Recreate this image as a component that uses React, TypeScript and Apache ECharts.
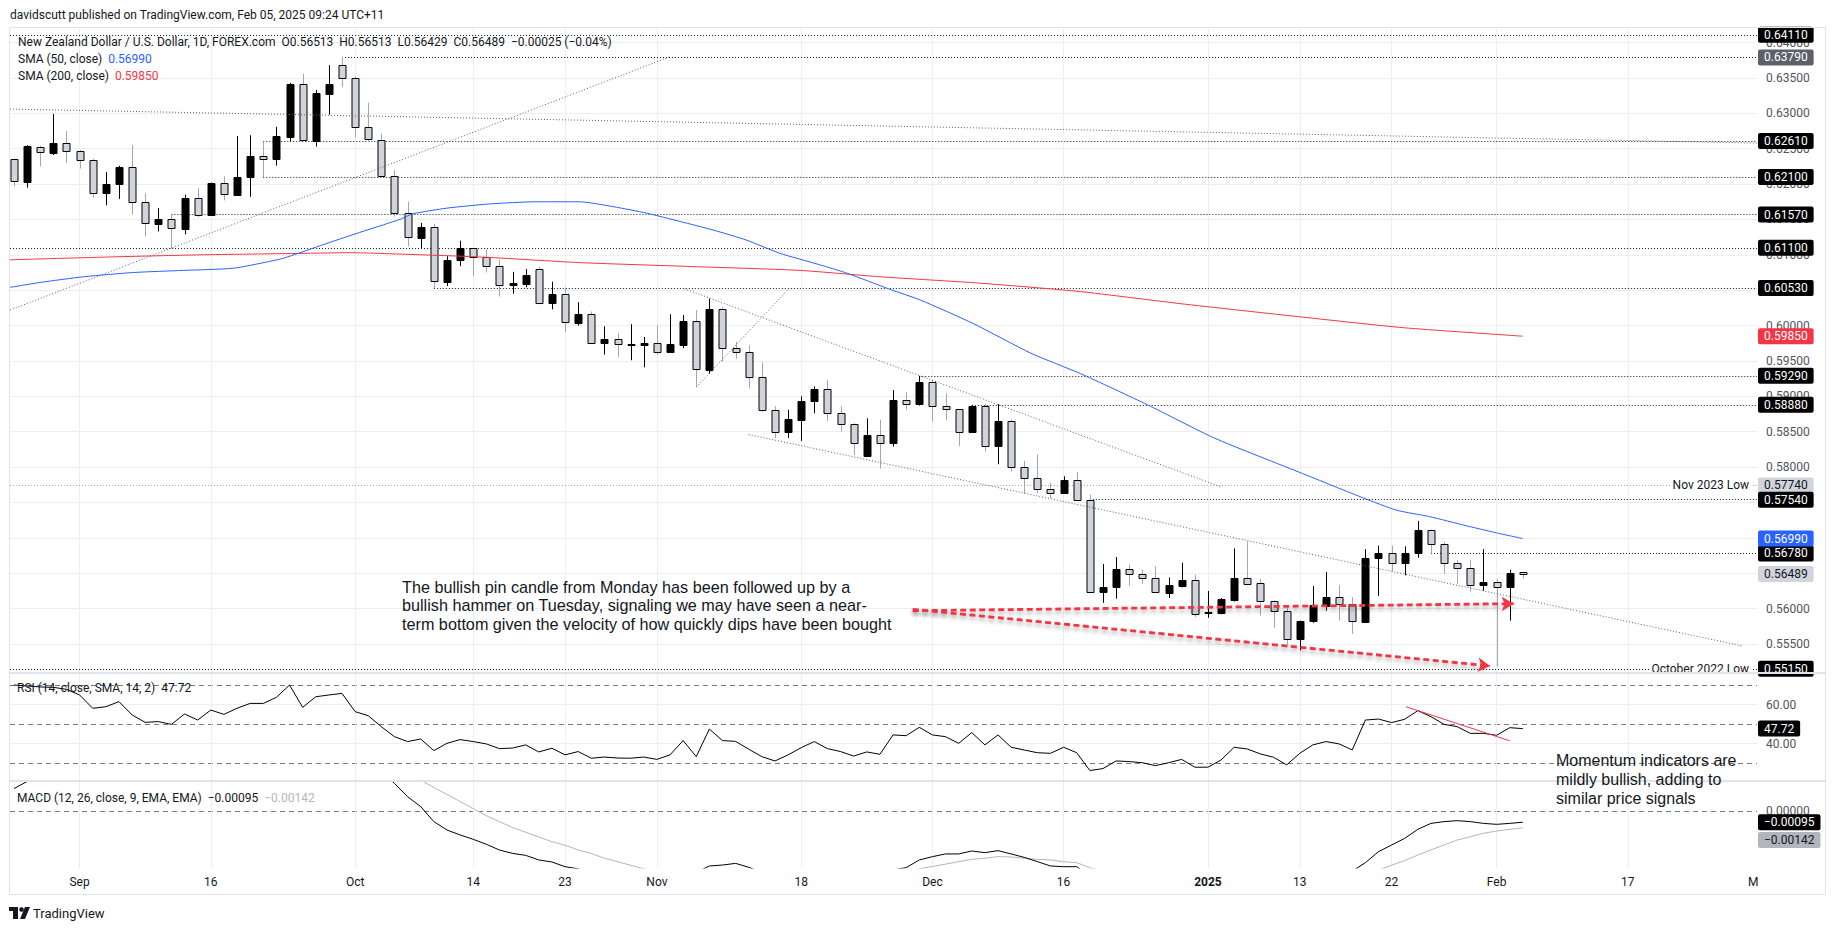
import React, { useEffect, useRef } from 'react';
import * as echarts from 'echarts';

// ---------- DATA (bar index 0 = Aug 26 2024, daily trading bars) ----------
const opens = [0.6235,0.6203,0.6253,0.6244,0.6258,0.6247,0.6234,0.6187,0.6200,0.6224,
 0.6174,0.6144,0.6150,0.6137,0.6180,0.6156,0.6201,0.6185,0.6210,0.6240,
 0.6236,0.6267,0.6342,0.6261,0.6328,0.6368,0.6350,0.6280,0.6263,0.6212,
 0.6159,0.6124,0.6139,0.6062,0.6092,0.6109,0.6097,0.6084,0.6057,0.6059,
 0.6080,0.6032,0.6044,0.6004,0.6016,0.5976,0.5981,0.5973,0.5973,0.5976,
 0.5963,0.5973,0.6006,0.5937,0.6024,0.5968,0.5963,0.5927,0.5881,0.5849,
 0.5867,0.5893,0.5911,0.5876,0.5861,0.5816,0.5845,0.5834,0.5895,0.5889,
 0.5920,0.5887,0.5882,0.5850,0.5886,0.5830,0.5865,0.5800,0.5784,0.5769,
 0.5763,0.5782,0.5754,0.5623,0.5630,0.5656,0.5649,0.5643,0.5622,0.5632,
 0.5640,0.5594,0.5594,0.5612,0.5643,0.5636,0.5611,0.5597,0.5557,0.5583,
 0.5604,0.5616,0.5607,0.5581,0.5672,0.5678,0.5665,0.5678,0.5711,0.5692,
 0.5665,0.5658,0.5634,0.5637,0.5630,0.56513];
const highs = [0.6236,0.6255,0.6254,0.6299,0.6275,0.6248,0.6236,0.6217,0.6226,0.6255,
 0.6187,0.6166,0.6158,0.6185,0.6194,0.6202,0.6211,0.6268,0.6269,0.6260,
 0.6281,0.6343,0.6356,0.6333,0.6368,0.6380,0.6352,0.6315,0.6271,0.6220,
 0.6175,0.6145,0.6144,0.6098,0.6120,0.6110,0.6107,0.6093,0.6076,0.6080,
 0.6083,0.6062,0.6054,0.6033,0.6020,0.5999,0.5989,0.6002,0.5984,0.6000,
 0.6016,0.6015,0.6022,0.6038,0.6026,0.5977,0.5972,0.5948,0.5886,0.5881,
 0.5900,0.5914,0.5923,0.5886,0.5862,0.5869,0.5867,0.5909,0.5906,0.5929,
 0.5923,0.5904,0.5882,0.5888,0.5889,0.5889,0.5867,0.5809,0.5818,0.5778,
 0.5787,0.5793,0.5761,0.5663,0.5673,0.5662,0.5655,0.5660,0.5644,0.5665,
 0.5648,0.5625,0.5615,0.5685,0.5695,0.5642,0.5612,0.5603,0.5583,0.5632,
 0.5652,0.5633,0.5616,0.5684,0.5689,0.5689,0.5688,0.5724,0.5712,0.5694,
 0.5669,0.5669,0.5684,0.5642,0.5655,0.56513];
const lows = [0.6197,0.6195,0.6225,0.6241,0.6230,0.6222,0.6181,0.6170,0.6179,0.6157,
 0.6126,0.6133,0.6109,0.6129,0.6153,0.6155,0.6177,0.6184,0.6182,0.6210,
 0.6226,0.6260,0.6261,0.6253,0.6298,0.6337,0.6266,0.6259,0.6211,0.6154,
 0.6112,0.6109,0.6053,0.6056,0.6084,0.6070,0.6075,0.6041,0.6045,0.6054,
 0.6030,0.6023,0.5991,0.6000,0.5975,0.5959,0.5955,0.5951,0.5941,0.5958,
 0.5963,0.5968,0.5913,0.5932,0.5949,0.5953,0.5911,0.5878,0.5841,0.5841,
 0.5837,0.5876,0.5865,0.5850,0.5817,0.5816,0.5798,0.5829,0.5881,0.5887,
 0.5864,0.5866,0.5830,0.5850,0.5822,0.5804,0.5794,0.5762,0.5763,0.5756,
 0.5762,0.5752,0.5622,0.5608,0.5614,0.5632,0.5635,0.5622,0.5615,0.5630,
 0.5588,0.5587,0.5592,0.5610,0.5633,0.5590,0.5573,0.5548,0.5541,0.5580,
 0.5597,0.5583,0.5564,0.5580,0.5618,0.5652,0.5647,0.5672,0.5678,0.5649,
 0.5635,0.5624,0.5625,0.5518,0.5583,0.56429];
const closes = [0.6204,0.6254,0.6245,0.6258,0.6247,0.6234,0.6187,0.6200,0.6224,0.6174,
 0.6145,0.6150,0.6138,0.6180,0.6157,0.6201,0.6186,0.6210,0.6240,0.6236,
 0.6268,0.6342,0.6262,0.6329,0.6342,0.6350,0.6280,0.6264,0.6212,0.6159,
 0.6125,0.6139,0.6063,0.6093,0.6109,0.6097,0.6084,0.6057,0.6060,0.6071,
 0.6032,0.6044,0.6005,0.6016,0.5976,0.5981,0.5974,0.5974,0.5976,0.5963,
 0.5974,0.6007,0.5938,0.6024,0.5968,0.5963,0.5927,0.5881,0.5849,0.5868,
 0.5893,0.5911,0.5876,0.5861,0.5834,0.5845,0.5834,0.5895,0.5889,0.5920,
 0.5887,0.5882,0.5850,0.5886,0.5830,0.5865,0.5800,0.5784,0.5769,0.5763,
 0.5782,0.5754,0.5623,0.5630,0.5656,0.5649,0.5643,0.5623,0.5633,0.5640,
 0.5593,0.5595,0.5614,0.5643,0.5635,0.5611,0.5597,0.5557,0.5583,0.5605,
 0.5616,0.5607,0.5582,0.5672,0.5678,0.5665,0.5678,0.5711,0.5692,0.5665,
 0.5658,0.5634,0.5637,0.5630,0.5651,0.56489];

const sma50Pts = [[-0.3,0.6054],[2.0,0.6061],[5.3,0.6069],[9.1,0.6075],[12.9,0.6078],[16.7,0.6081],[19.3,0.6090],[20.5,0.6095],[21.8,0.6103],[24.3,0.6119],[26.9,0.6135],[29.4,0.6150],[30.4,0.6158],[33.0,0.6166],[36.3,0.6172],[39.8,0.6175],[43.1,0.6175],[45.7,0.6168],[48.2,0.6159],[50.8,0.6147],[53.3,0.6135],[55.8,0.6121],[58.4,0.6102],[61.4,0.6086],[63.5,0.6074],[66.8,0.6051],[69.1,0.6036],[73.1,0.6003],[77.5,0.5961],[81.3,0.5932],[86.4,0.5888],[91.5,0.5841],[98.2,0.5791],[102.9,0.5756],[105.4,0.5739],[107.9,0.5730],[110.5,0.5718],[113.0,0.5707],[115.0,0.5699]];
const sma200Pts = [[-0.3,0.6093],[7.3,0.6097],[14.2,0.6100],[21.8,0.6102],[25.6,0.6103],[27.9,0.6102],[35.5,0.6097],[43.1,0.6089],[50.8,0.6084],[59.9,0.6078],[66.0,0.6069],[73.6,0.6060],[81.3,0.6048],[88.9,0.6031],[98.2,0.6012],[105.9,0.5997],[115.0,0.5985]];

const rsi = [70,69.5,69,68.8,67.8,64.9,58.1,58.9,61.5,54.7,
 50.9,51.3,49.9,55.2,52.1,57.2,55.0,58.1,60.6,60.6,
 63.7,70.0,58.6,64.0,64.9,65.7,56.4,54.3,48.7,43.6,
 41.1,42.4,36.5,40.2,42.1,41.1,39.9,37.5,37.8,39.4,
 35.8,37.7,34.3,36.0,32.6,33.2,32.7,32.6,33.2,32.0,
 34.3,41.6,33.4,47.5,41.6,41.2,37.2,33.4,31.2,34.3,
 38.0,41.1,37.5,36.0,33.7,35.8,34.6,44.5,44.1,48.4,
 44.5,43.6,40.2,45.7,39.4,44.5,38.2,36.8,35.4,35.1,
 38.2,35.4,26.3,27.3,31.2,30.9,30.3,28.8,30.3,32.0,
 28.0,28.0,31.7,38.2,37.3,34.8,33.1,29.2,35.1,39.4,
 41.1,39.9,36.8,52.1,52.6,50.8,52.5,56.9,53.8,49.9,
 48.7,45.3,45.3,44.3,48.2,47.72];

const macd = [0.0019,0.0025,0.0028,0.0031,0.0032,0.0032,0.0030,0.0029,0.0029,0.0027,
 0.0026,0.0026,0.0026,0.0027,0.0027,0.0028,0.0028,0.0030,0.0032,0.0034,
 0.0036,0.0042,0.0042,0.0044,0.0046,0.0047,0.0044,0.0040,0.0033,0.00234,
 0.00121,0.00037,-0.00090,-0.00161,-0.00203,-0.00240,-0.00282,-0.00331,-0.00359,-0.00376,
 -0.00415,-0.00432,-0.00472,-0.0049,-0.0052,-0.0053,-0.0054,-0.0054,-0.0054,-0.0054,
 -0.0053,-0.0050,-0.0052,-0.00466,-0.00458,-0.00444,-0.00477,-0.0052,-0.0057,-0.0058,
 -0.0057,-0.0055,-0.0055,-0.0055,-0.0056,-0.0055,-0.0054,-0.0050,-0.00480,-0.00415,
 -0.00387,-0.00364,-0.00364,-0.00339,-0.00353,-0.00336,-0.00364,-0.00393,-0.00429,-0.00466,
 -0.00472,-0.00472,-0.0055,-0.0060,-0.0062,-0.0063,-0.0064,-0.0065,-0.0065,-0.0064,
 -0.0065,-0.0065,-0.0064,-0.0060,-0.0058,-0.0057,-0.0057,-0.0058,-0.0057,-0.0055,
 -0.0053,-0.0052,-0.0051,-0.00438,-0.00345,-0.00288,-0.00232,-0.00155,-0.00105,-0.00090,
 -0.00082,-0.00090,-0.00105,-0.00113,-0.00105,-0.00095];
const signal = [0.0027,0.0027,0.0028,0.0028,0.0029,0.0029,0.0029,0.0029,0.0029,0.0029,
 0.0028,0.0028,0.0028,0.0028,0.0028,0.0028,0.0028,0.0028,0.0029,0.0029,
 0.0030,0.0031,0.0033,0.0034,0.0036,0.0038,0.0039,0.0039,0.0038,0.0035,
 0.0031,0.0026,0.0020,0.0014,0.0008,0.0002,-0.0004,-0.0009,-0.0014,-0.0018,
 -0.0022,-0.0026,-0.0029,-0.0033,-0.0036,-0.0040,-0.0043,-0.0046,-0.0049,-0.0051,
 -0.0052,-0.0053,-0.0053,-0.0053,-0.0052,-0.0051,-0.0051,-0.0051,-0.0052,-0.0053,
 -0.0054,-0.0054,-0.0054,-0.0055,-0.0055,-0.0055,-0.0054,-0.0053,-0.0051,-0.0049,
 -0.0047,-0.0045,-0.0043,-0.0041,-0.0040,-0.00387,-0.0039,-0.0040,-0.0041,-0.00415,
 -0.0043,-0.00438,-0.0048,-0.0051,-0.0054,-0.0056,-0.0058,-0.0060,-0.0061,-0.0062,
 -0.0063,-0.0063,-0.0063,-0.0063,-0.0062,-0.0061,-0.0060,-0.0060,-0.0059,-0.0058,
 -0.0057,-0.0056,-0.0055,-0.0052,-0.0050,-0.0046,-0.0042,-0.00373,-0.0033,-0.00288,
 -0.00246,-0.00218,-0.00189,-0.0017,-0.00155,-0.00142];

const xTickIdx = [5, 15, 26, 35, 42, 49, 60, 70, 80, 91, 98, 105, 113, 123];
const xTickText = ['Sep', '16', 'Oct', '14', '23', 'Nov', '18', 'Dec', '16', '2025', '13', '22', 'Feb', '17'];
const priceTicks = [0.555,0.56,0.565,0.57,0.575,0.58,0.585,0.59,0.595,0.6,0.605,0.61,0.615,0.62,0.625,0.63,0.635,0.64];

const levelPrices = [0.6411, 0.6379, 0.6261, 0.6210, 0.6157, 0.6110, 0.6053, 0.5929, 0.5888, 0.5774, 0.5754, 0.5678, 0.5515];
const levelFromBar = [-0.3, 25, 19, 19, 12, -0.3, 32, 69, 73, -0.3, 82, 108, -0.3];
const levelNotes = ['', '', '', '', '', '', '', '', '', 'Nov 2023 Low', '', '', 'October 2022 Low'];

const trendLines = [
  [[-0.3, 0.6022], [50.0, 0.6380]],
  [[-0.3, 0.6306], [132.85, 0.6258]],
  [[51.1, 0.6052], [92.0, 0.5772]],
  [[56.0, 0.5846], [131.8, 0.5547]],
  [[52.0, 0.5913], [59.0, 0.6051]],
];
const arrowLines = [
  [[68.5, 0.5597], [114.3, 0.5607]],
  [[68.5, 0.5599], [112.5, 0.5519]],
];
const rsiTrend = [[106.1, 58.9], [114.0, 41.5]];

const lastClose = 0.56489;
const sma50Last = 0.5699;
const sma200Last = 0.5985;
const rsiLast = 47.72;
const macdLast = -0.00095;
const signalLast = -0.00142;

// ---------- LAYOUT ----------
const X_MIN = -0.305;
const X_MAX = 132.85;
const Y_MIN = 0.5509;
const Y_MAX = 0.6422;
const UI = "Roboto, 'Noto Sans', sans-serif";
const NOTE = "'Liberation Sans', Arial, sans-serif";
const GRIDC = '#eceef2';
const TXT = '#131722';
const HIDDEN = { color: 'rgba(0,0,0,0)', width: 0 };
const PANE_EDGE_NUDGE = 0.0004; // labels at the pane's bottom edge are lifted into the pane, as the reference does

const box = (text: string, bg: string, fg: string) => ({
  show: true, position: 'end', distance: 1, formatter: text,
  backgroundColor: bg, color: fg, padding: [2, 6, 2, 6], borderRadius: 2,
  fontSize: 12, lineHeight: 12, fontFamily: UI,
});
const plain = (text: string) => ({
  show: true, position: 'end', distance: 9, formatter: text,
  color: '#50535e', fontSize: 12, fontFamily: UI,
});
const vLines = () => xTickIdx.map((k) => ({ xAxis: k, lineStyle: { color: GRIDC, width: 1, type: 'solid' } }));
const mlBase = { silent: true, symbol: 'none', precision: 10, animation: false, label: { show: false }, emphasis: { disabled: true } };

export default function App() {
  const ref = useRef<HTMLDivElement>(null);
  useEffect(() => {
    const chart = echarts.init(ref.current as HTMLDivElement, null, { renderer: 'svg' });

    const candleData = opens.map((o, i) => [i, o, closes[i], lows[i], highs[i]]);

    const priceGridMarks = [
      ...priceTicks.map((v) => ({ yAxis: v, lineStyle: { color: GRIDC, width: 1, type: 'solid' }, label: plain(v.toFixed(5)) })),
      ...vLines(),
    ];

    const levelMarks: any[] = [];
    levelPrices.forEach((p, i) => {
      const isNov = levelNotes[i] === 'Nov 2023 Low';
      const bg = i === 1 ? '#5d606b' : isNov ? '#d1d4dc' : '#000000';
      const fg = isNov ? TXT : '#ffffff';
      const nearEdge = p - Y_MIN < PANE_EDGE_NUDGE;
      const labelAt = nearEdge ? Y_MIN + PANE_EDGE_NUDGE : p;
      levelMarks.push([
        { coord: [levelFromBar[i], p], lineStyle: { color: isNov ? '#a3a6af' : TXT, width: 1, type: [1, 2] }, label: nearEdge ? { show: false } : box(p.toFixed(5), bg, fg) },
        { coord: [X_MAX, p] },
      ]);
      if (nearEdge) {
        levelMarks.push({ yAxis: labelAt, lineStyle: HIDDEN, label: box(p.toFixed(5), bg, fg) });
      }
      if (levelNotes[i]) {
        const noteAt = nearEdge ? Y_MIN + PANE_EDGE_NUDGE * 0.75 : p;
        levelMarks.push([
          { coord: [levelFromBar[i], noteAt], lineStyle: HIDDEN, label: { show: true, position: 'insideEnd', distance: 6, formatter: levelNotes[i], color: TXT, fontSize: 12, fontFamily: UI, backgroundColor: '#ffffff', padding: [1, 2] } },
          { coord: [X_MAX, noteAt] },
        ]);
      }
    });
    levelMarks.push({ yAxis: lastClose, lineStyle: HIDDEN, label: box(lastClose.toFixed(5), '#d1d4dc', TXT) });
    levelMarks.push({ yAxis: sma50Last, lineStyle: HIDDEN, label: box(sma50Last.toFixed(5), '#2962ff', '#ffffff') });
    levelMarks.push({ yAxis: sma200Last, lineStyle: HIDDEN, label: box(sma200Last.toFixed(5), '#f23645', '#ffffff') });

    const macdScale = 87 / (0.002542 + 0.004831);
    const signalLabelPos = -(29 / macdScale);

    const option: any = {
      animation: false,
      backgroundColor: '#ffffff',
      grid: [
        { left: 10, width: 1747, top: 27, height: 646, outerBoundsMode: 'none' },
        { left: 10, width: 1747, top: 673, height: 108, outerBoundsMode: 'none' },
        { left: 10, width: 1747, top: 781, height: 87, outerBoundsMode: 'none' },
      ],
      xAxis: [0, 1, 2].map((g) => ({
        type: 'value', gridIndex: g, min: X_MIN, max: X_MAX, show: g === 2,
        axisLine: { show: false }, axisTick: { show: false }, splitLine: { show: false },
        axisLabel: g === 2 ? {
          customValues: xTickIdx,
          formatter: (v: number) => {
            const i = xTickIdx.indexOf(Math.round(v));
            if (i < 0) return '';
            return xTickText[i] === '2025' ? '{b|2025}' : xTickText[i];
          },
          rich: { b: { fontWeight: 'bold', fontSize: 12, color: TXT, fontFamily: UI } },
          color: TXT, fontSize: 12, fontFamily: UI, margin: 8,
        } : { show: false },
      })),
      yAxis: [
        { type: 'value', gridIndex: 0, min: Y_MIN, max: Y_MAX, show: false, splitLine: { show: false } },
        { type: 'value', gridIndex: 1, min: 20.96, max: 76.13, show: false, splitLine: { show: false } },
        { type: 'value', gridIndex: 2, min: -0.004831, max: 0.002542, show: false, splitLine: { show: false } },
      ],
      series: [
        {
          type: 'custom', name: 'candles', xAxisIndex: 0, yAxisIndex: 0, z: 3, clip: true, silent: true,
          data: candleData,
          encode: { x: 0, y: [1, 2, 3, 4] },
          renderItem: (params: any, api: any) => {
            const k = api.value(0);
            const o = api.value(1), c = api.value(2), l = api.value(3), h = api.value(4);
            const pO = api.coord([k, o]);
            const pC = api.coord([k, c]);
            const pL = api.coord([k, l]);
            const pH = api.coord([k, h]);
            const up = c >= o;
            const xc = Math.round(pO[0]) + 0.5;
            const top = Math.round(Math.min(pO[1], pC[1])) + 0.5;
            const bot = Math.round(Math.max(pO[1], pC[1])) + 0.5;
            return {
              type: 'group',
              children: [
                { type: 'line', shape: { x1: xc, y1: pH[1], x2: xc, y2: pL[1] }, style: { stroke: up ? '#000000' : '#a3a6af', lineWidth: 1 } },
                { type: 'rect', shape: { x: xc - 3.5, y: top, width: 7, height: Math.max(bot - top, 1) }, style: { fill: up ? '#000000' : '#d1d4dc', stroke: '#000000', lineWidth: 1 } },
              ],
            };
          },
        },
        {
          type: 'line', name: 'SMA200', xAxisIndex: 0, yAxisIndex: 0, z: 4, silent: true,
          data: sma200Pts, symbol: 'none', smooth: 0.2,
          lineStyle: { color: '#f23645', width: 1 },
          markLine: { ...mlBase, z: 1, data: priceGridMarks },
        },
        {
          type: 'line', name: 'SMA50', xAxisIndex: 0, yAxisIndex: 0, z: 4, silent: true,
          data: sma50Pts, symbol: 'none', smooth: 0.2,
          lineStyle: { color: '#2962ff', width: 1 },
          markLine: { ...mlBase, z: 2, data: levelMarks },
        },
        ...trendLines.map((pts, i) => ({
          type: 'line', name: 'trend' + i, xAxisIndex: 0, yAxisIndex: 0, z: 4, silent: true,
          data: pts, symbol: 'none',
          lineStyle: { color: '#5d606b', width: 1, type: [1, 2] },
          ...(i === 0 ? {
            markLine: {
              ...mlBase, symbol: ['none', 'arrow'], symbolSize: [11, 12], z: 6,
              data: arrowLines.map(([a, b]) => [
                { coord: a, lineStyle: { color: '#f23645', width: 2.8, type: [6, 3.5], shadowColor: 'rgba(0,0,0,0.35)', shadowBlur: 4, shadowOffsetY: 3 }, itemStyle: { color: '#f23645' } },
                { coord: b },
              ]),
            },
          } : {}),
        })),
        {
          type: 'line', name: 'RSI', xAxisIndex: 1, yAxisIndex: 1, z: 3, silent: true,
          data: rsi.map((v, i) => [i, v]), symbol: 'none',
          lineStyle: { color: '#000000', width: 1 },
          markLine: {
            ...mlBase, z: 1,
            data: [
              { yAxis: 70, lineStyle: { color: '#787b86', width: 1, type: [5, 4] } },
              { yAxis: 50, lineStyle: { color: '#787b86', width: 1, type: [5, 4] } },
              { yAxis: 30, lineStyle: { color: '#787b86', width: 1, type: [5, 4] } },
              { yAxis: 60, lineStyle: { color: GRIDC, width: 1, type: 'solid' }, label: plain('60.00') },
              { yAxis: 40, lineStyle: { color: GRIDC, width: 1, type: 'solid' }, label: plain('40.00') },
              ...vLines(),
            ],
          },
        },
        {
          type: 'line', name: 'RSItrend', xAxisIndex: 1, yAxisIndex: 1, z: 4, silent: true,
          data: rsiTrend, symbol: 'none', lineStyle: { color: '#f23645', width: 1 },
          markLine: {
            ...mlBase, z: 6,
            data: [{ yAxis: rsiLast, lineStyle: HIDDEN, label: box(rsiLast.toFixed(2), '#000000', '#ffffff') }],
          },
        },
        {
          type: 'line', name: 'MACD', xAxisIndex: 2, yAxisIndex: 2, z: 4, silent: true,
          data: macd.map((v, i) => [i, v]), symbol: 'none',
          lineStyle: { color: '#000000', width: 1 },
          markLine: {
            ...mlBase, z: 1,
            data: [
              { yAxis: 0, lineStyle: { color: '#787b86', width: 1, type: [5, 4] }, label: plain('0.00000') },
              ...vLines(),
            ],
          },
        },
        {
          type: 'line', name: 'Signal', xAxisIndex: 2, yAxisIndex: 2, z: 3, silent: true,
          data: signal.map((v, i) => [i, v]), symbol: 'none',
          lineStyle: { color: '#b2b5be', width: 1 },
          markLine: {
            ...mlBase, z: 6,
            data: [
              { yAxis: macdLast, lineStyle: HIDDEN, label: box('\u2212' + Math.abs(macdLast).toFixed(5), '#000000', '#ffffff') },
              { yAxis: signalLabelPos, lineStyle: HIDDEN, label: box('\u2212' + Math.abs(signalLast).toFixed(5), '#b2b5be', TXT) },
            ],
          },
        },
      ],
      graphic: [
        { type: 'rect', z: 50, silent: true, shape: { x: 9.5, y: 27.5, width: 1816, height: 867 }, style: { fill: 'none', stroke: '#e0e3eb', lineWidth: 1 } },
        { type: 'rect', z: 50, silent: true, shape: { x: 10, y: 672, width: 1815, height: 2 }, style: { fill: '#e0e3eb' } },
        { type: 'rect', z: 50, silent: true, shape: { x: 10, y: 780, width: 1815, height: 2 }, style: { fill: '#e0e3eb' } },
        { type: 'text', z: 60, x: 10, y: 15, style: { text: 'davidscutt published on TradingView.com, Feb 05, 2025 09:24 UTC+11', fill: TXT, fontSize: 12, fontFamily: UI, verticalAlign: 'middle' } },
        { type: 'text', z: 60, x: 18, y: 42, style: { text: 'New Zealand Dollar / U.S. Dollar, 1D, FOREX.com  O0.56513  H0.56513  L0.56429  C0.56489  \u22120.00025 (\u22120.04%)', fill: TXT, fontSize: 12, fontFamily: UI, verticalAlign: 'middle' } },
        { type: 'text', z: 60, x: 18, y: 59, style: { text: '{a|SMA (50, close)}  {b|0.56990}', fontSize: 12, fontFamily: UI, verticalAlign: 'middle', rich: { a: { fill: TXT, fontSize: 12, fontFamily: UI }, b: { fill: '#2962ff', fontSize: 12, fontFamily: UI } } } },
        { type: 'text', z: 60, x: 18, y: 76, style: { text: '{a|SMA (200, close)}  {b|0.59850}', fontSize: 12, fontFamily: UI, verticalAlign: 'middle', rich: { a: { fill: TXT, fontSize: 12, fontFamily: UI }, b: { fill: '#f23645', fontSize: 12, fontFamily: UI } } } },
        { type: 'text', z: 60, x: 17, y: 688, style: { text: 'RSI (14, close, SMA, 14, 2)  47.72', fill: TXT, fontSize: 12, fontFamily: UI, verticalAlign: 'middle' } },
        { type: 'text', z: 60, x: 17, y: 798, style: { text: '{a|MACD (12, 26, close, 9, EMA, EMA)}  {a|\u22120.00095}  {b|\u22120.00142}', fontSize: 12, fontFamily: UI, verticalAlign: 'middle', rich: { a: { fill: TXT, fontSize: 12, fontFamily: UI }, b: { fill: '#b2b5be', fontSize: 12, fontFamily: UI } } } },
        { type: 'text', z: 60, x: 402, y: 578, style: { text: 'The bullish pin candle from Monday has been followed up by a\nbullish hammer on Tuesday, signaling we may have seen a near-\nterm bottom given the velocity of how quickly dips have been bought', fill: TXT, fontSize: 16.2, lineHeight: 18.3, fontFamily: NOTE, verticalAlign: 'top' } },
        { type: 'text', z: 60, x: 1556, y: 750.5, style: { text: 'Momentum indicators are\nmildly bullish, adding to\nsimilar price signals', fill: TXT, fontSize: 16, lineHeight: 19, fontFamily: NOTE, verticalAlign: 'top' } },
        { type: 'text', z: 60, x: 1748, y: 882, style: { text: 'M', fill: TXT, fontSize: 12, fontFamily: UI, verticalAlign: 'middle' } },
        { type: 'rect', z: 60, shape: { x: 9, y: 907, width: 9, height: 4 }, style: { fill: TXT } },
        { type: 'rect', z: 60, shape: { x: 13, y: 907, width: 5, height: 12 }, style: { fill: TXT } },
        { type: 'circle', z: 60, shape: { cx: 21.5, cy: 909.5, r: 2.3 }, style: { fill: TXT } },
        { type: 'polygon', z: 60, shape: { points: [[25, 907], [30, 907], [25, 919], [20, 919]] }, style: { fill: TXT } },
        { type: 'text', z: 60, x: 33, y: 913, style: { text: 'TradingView', fill: TXT, fontSize: 13, fontFamily: UI, verticalAlign: 'middle' } },
      ],
    };

    chart.setOption(option);
    return () => chart.dispose();
  }, []);

  return <div ref={ref} style={{ position: 'fixed', left: 0, top: 0, width: 1835, height: 931, background: '#ffffff' }} />;
}
